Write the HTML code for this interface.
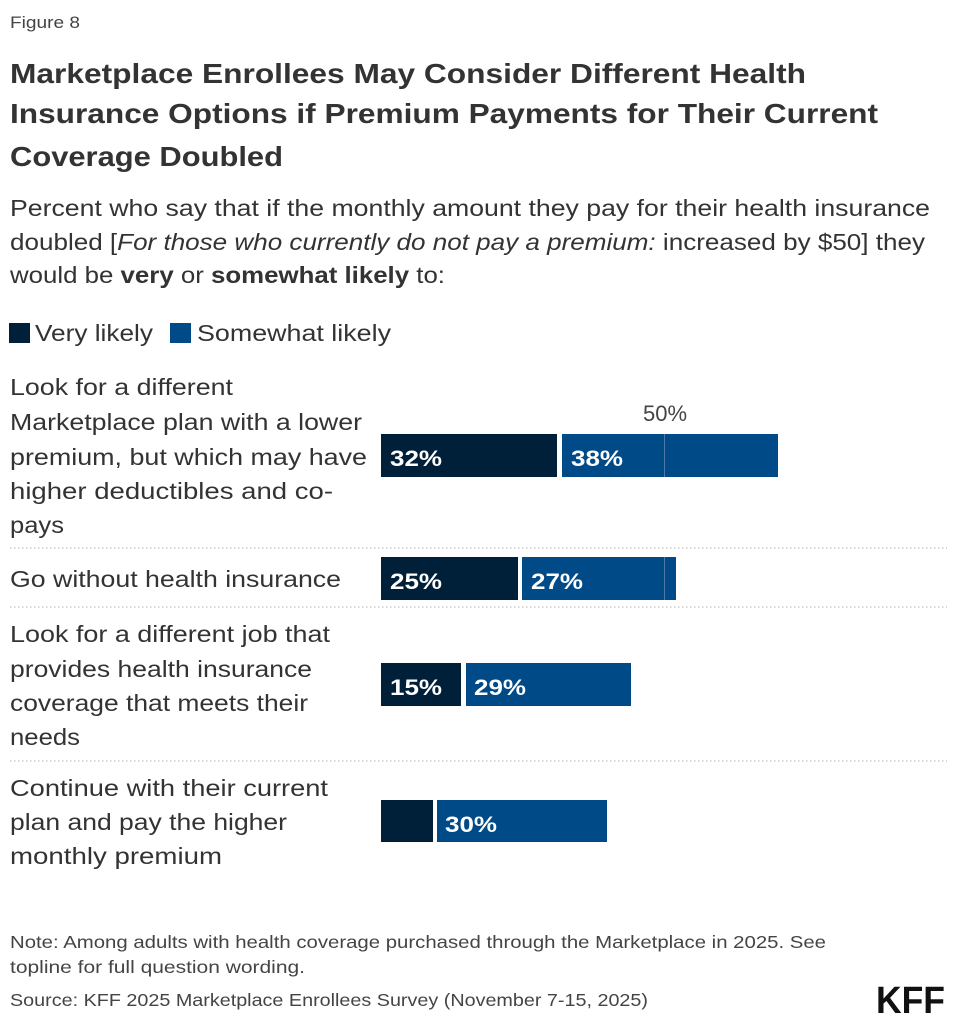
<!DOCTYPE html>
<html><head><meta charset="utf-8"><style>
html,body{margin:0;padding:0;background:#fff;}
svg{display:block;}
text{font-family:"Liberation Sans",sans-serif;fill:#333;}
.t{font-weight:bold;font-size:28px;}
.s{font-size:23px;}
.l{font-size:23px;}
.b{font-weight:bold;font-size:22px;fill:#fff;}
.f{font-size:17.5px;fill:#444;}
</style></head><body>
<svg width="957" height="1023" viewBox="0 0 957 1023" xmlns="http://www.w3.org/2000/svg">
<rect width="957" height="1023" fill="#fff"/>
<text x="10" y="28" style="font-size:17px;fill:#444" textLength="70" lengthAdjust="spacingAndGlyphs">Figure 8</text>
<text class="t" x="10" y="83" textLength="796" lengthAdjust="spacingAndGlyphs">Marketplace Enrollees May Consider Different Health</text>
<text class="t" x="10" y="123" textLength="868" lengthAdjust="spacingAndGlyphs">Insurance Options if Premium Payments for Their Current</text>
<text class="t" x="10" y="166" textLength="273" lengthAdjust="spacingAndGlyphs">Coverage Doubled</text>
<text class="s" x="10" y="216" textLength="920" lengthAdjust="spacingAndGlyphs">Percent who say that if the monthly amount they pay for their health insurance</text>
<text class="s" x="10" y="250" textLength="915" lengthAdjust="spacingAndGlyphs">doubled [<tspan font-style="italic">For those who currently do not pay a premium:</tspan> increased by $50] they</text>
<text class="s" x="10" y="283" textLength="435" lengthAdjust="spacingAndGlyphs">would be <tspan font-weight="bold">very</tspan> or <tspan font-weight="bold">somewhat likely</tspan> to:</text>
<rect x="9" y="323" width="21" height="20" fill="#001f38"/>
<text class="s" x="35" y="341" textLength="118" lengthAdjust="spacingAndGlyphs">Very likely</text>
<rect x="170" y="323" width="21" height="20" fill="#004a87"/>
<text class="s" x="197" y="341" textLength="194" lengthAdjust="spacingAndGlyphs">Somewhat likely</text>

<text class="l" x="10" y="395" textLength="223" lengthAdjust="spacingAndGlyphs">Look for a different</text>
<text class="l" x="10" y="430" textLength="352" lengthAdjust="spacingAndGlyphs">Marketplace plan with a lower</text>
<text class="l" x="10" y="465" textLength="357" lengthAdjust="spacingAndGlyphs">premium, but which may have</text>
<text class="l" x="10" y="499" textLength="323" lengthAdjust="spacingAndGlyphs">higher deductibles and co-</text>
<text class="l" x="10" y="533" textLength="54" lengthAdjust="spacingAndGlyphs">pays</text>
<text class="l" x="10" y="587" textLength="331" lengthAdjust="spacingAndGlyphs">Go without health insurance</text>
<text class="l" x="10" y="642" textLength="320" lengthAdjust="spacingAndGlyphs">Look for a different job that</text>
<text class="l" x="10" y="677" textLength="302" lengthAdjust="spacingAndGlyphs">provides health insurance</text>
<text class="l" x="10" y="711" textLength="298" lengthAdjust="spacingAndGlyphs">coverage that meets their</text>
<text class="l" x="10" y="745" textLength="70" lengthAdjust="spacingAndGlyphs">needs</text>
<text class="l" x="10" y="796" textLength="318" lengthAdjust="spacingAndGlyphs">Continue with their current</text>
<text class="l" x="10" y="830" textLength="277" lengthAdjust="spacingAndGlyphs">plan and pay the higher</text>
<text class="l" x="10" y="864" textLength="212" lengthAdjust="spacingAndGlyphs">monthly premium</text>

<g stroke="#ccc" stroke-width="1.5" stroke-dasharray="1.5,2.5">
<line x1="10" y1="548" x2="947" y2="548"/>
<line x1="10" y1="607" x2="947" y2="607"/>
<line x1="10" y1="761" x2="947" y2="761"/>
</g>

<text x="665" y="421" text-anchor="middle" style="font-size:22px;fill:#444">50%</text>

<rect x="381" y="434" width="176" height="43" fill="#001f38"/>
<rect x="562" y="434" width="216" height="43" fill="#004a87"/>
<rect x="381" y="557" width="137" height="43" fill="#001f38"/>
<rect x="522" y="557" width="154" height="43" fill="#004a87"/>
<rect x="381" y="663" width="80" height="43" fill="#001f38"/>
<rect x="466" y="663" width="165" height="43" fill="#004a87"/>
<rect x="381" y="800" width="52" height="42" fill="#001f38"/>
<rect x="437" y="800" width="170" height="42" fill="#004a87"/>
<line x1="664.5" y1="434" x2="664.5" y2="477" stroke="#4f7aa8" stroke-width="1"/>
<line x1="664.5" y1="557" x2="664.5" y2="600" stroke="#4f7aa8" stroke-width="1"/>

<text class="b" x="390" y="466" textLength="52" lengthAdjust="spacingAndGlyphs">32%</text>
<text class="b" x="571" y="466" textLength="52" lengthAdjust="spacingAndGlyphs">38%</text>
<text class="b" x="390" y="589" textLength="52" lengthAdjust="spacingAndGlyphs">25%</text>
<text class="b" x="531" y="589" textLength="52" lengthAdjust="spacingAndGlyphs">27%</text>
<text class="b" x="390" y="695" textLength="52" lengthAdjust="spacingAndGlyphs">15%</text>
<text class="b" x="474" y="695" textLength="52" lengthAdjust="spacingAndGlyphs">29%</text>
<text class="b" x="445" y="832" textLength="52" lengthAdjust="spacingAndGlyphs">30%</text>

<text class="f" x="10" y="948" textLength="816" lengthAdjust="spacingAndGlyphs">Note: Among adults with health coverage purchased through the Marketplace in 2025. See</text>
<text class="f" x="10" y="973" textLength="295" lengthAdjust="spacingAndGlyphs">topline for full question wording.</text>
<text class="f" x="10" y="1006" textLength="638" lengthAdjust="spacingAndGlyphs">Source: KFF 2025 Marketplace Enrollees Survey (November 7-15, 2025)</text>
<text x="876" y="1013" textLength="69" lengthAdjust="spacingAndGlyphs" style="font-size:38px;font-weight:bold;fill:#111">KFF</text>
</svg>
</body></html>
